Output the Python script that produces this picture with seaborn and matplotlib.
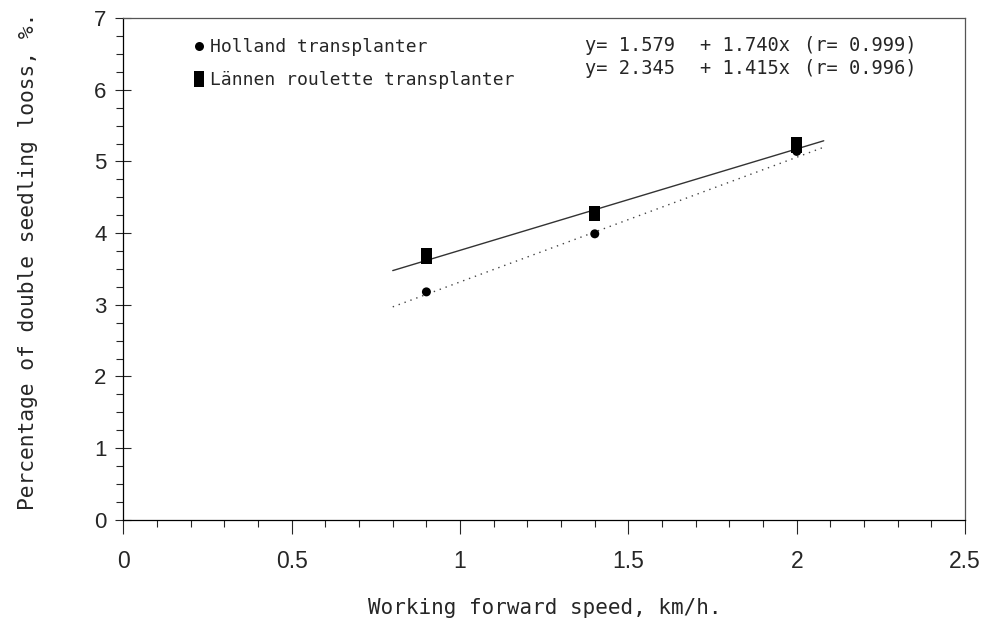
import numpy as np
import pandas as pd
import seaborn as sns
import matplotlib.pyplot as plt
from matplotlib.ticker import MultipleLocator

# --- Data ---
speed = [0.9, 1.4, 2.0]
holland_loss = [3.18, 3.99, 5.14]
lannen_loss = [3.68, 4.27, 5.23]

# regression lines printed on the chart
holland_fit = (1.579, 1.740)   # intercept, slope
lannen_fit = (2.345, 1.415)
fit_x = [0.8, 2.08]

eq_lines = [("y= 1.579", "+ 1.740x", "(r= 0.999)"),
            ("y= 2.345", "+ 1.415x", "(r= 0.996)")]

pts = pd.DataFrame({
    'speed': speed * 2,
    'loss': holland_loss + lannen_loss,
    'machine': ['Holland transplanter'] * 3 + ['Lännen roulette transplanter'] * 3,
})
fits = pd.DataFrame({
    'speed': fit_x * 2,
    'loss': [holland_fit[0] + holland_fit[1] * x for x in fit_x]
            + [lannen_fit[0] + lannen_fit[1] * x for x in fit_x],
    'machine': ['Holland transplanter'] * 2 + ['Lännen roulette transplanter'] * 2,
})

sns.set_style('ticks')
plt.rcParams['font.family'] = ['Liberation Sans', 'DejaVu Sans']

fig = plt.figure(figsize=(9.95, 6.24), dpi=100)
ax = fig.add_axes([0.124, 0.167, 0.846, 0.804])

# --- Fit lines ---
sns.lineplot(data=fits[fits.machine == 'Holland transplanter'], x='speed', y='loss',
             color='#444444', lw=1.0, linestyle=(0, (1, 3.5)), ax=ax)
sns.lineplot(data=fits[fits.machine != 'Holland transplanter'], x='speed', y='loss',
             color='#333333', lw=1.0, ax=ax)

# --- Points ---
rect = [(-0.72, -1), (0.72, -1), (0.72, 1), (-0.72, 1)]
sns.scatterplot(data=pts, x='speed', y='loss', style='machine',
                markers={'Holland transplanter': 'o', 'Lännen roulette transplanter': rect},
                size='machine', sizes={'Holland transplanter': 42, 'Lännen roulette transplanter': 120},
                color='black', edgecolor='black', linewidth=0, ax=ax, zorder=3)

# --- Legend ---
h, l = ax.get_legend_handles_labels()
names = ['Holland transplanter', 'Lännen roulette transplanter']
handles = [h[l.index(n)] for n in names]
ax.legend(handles, names, loc='upper left', bbox_to_anchor=(0.07, 0.975), frameon=False,
          handletextpad=0.15, labelspacing=0.85, borderaxespad=0,
          prop={'family': 'DejaVu Sans Mono', 'size': 13}, handlelength=1.0)

# equations
for row, yy in zip(eq_lines, [0.946, 0.900]):
    for txt, xx in zip(row, [0.548, 0.685, 0.809]):
        ax.text(xx, yy, txt, transform=ax.transAxes, fontsize=13.5,
                family='DejaVu Sans Mono', va='center')

# --- Axes ---
ax.set_xlim(0, 2.5)
ax.set_ylim(0, 7)
ax.xaxis.set_minor_locator(MultipleLocator(0.1))
ax.yaxis.set_minor_locator(MultipleLocator(0.25))
ax.set_xticks([0, 0.5, 1, 1.5, 2, 2.5], ['0', '0.5', '1', '1.5', '2', '2.5'])
ax.set_yticks(range(8), [str(i) for i in range(8)])
ax.tick_params(which='major', direction='inout', length=12, width=0.8, pad=6)
ax.tick_params(which='minor', direction='out', length=5, width=0.8)
ax.tick_params(axis='x', which='major', direction='out', length=10, labelsize=16.5, pad=12)
ax.tick_params(axis='y', which='major', labelsize=16)
for s in ax.spines.values():
    s.set_linewidth(0.9)
    s.set_color('black')
ax.spines['top'].set_color('#555555')
ax.spines['right'].set_color('#555555')

ax.set_xlabel('Working forward speed, km/h.', family='DejaVu Sans Mono', fontsize=15, labelpad=18)
ax.set_ylabel('Percentage of double seedling looss, %.', family='DejaVu Sans Mono', fontsize=15.3)
ax.yaxis.set_label_coords(-0.102, 0.515)

fig.savefig('out.png', dpi=100)
